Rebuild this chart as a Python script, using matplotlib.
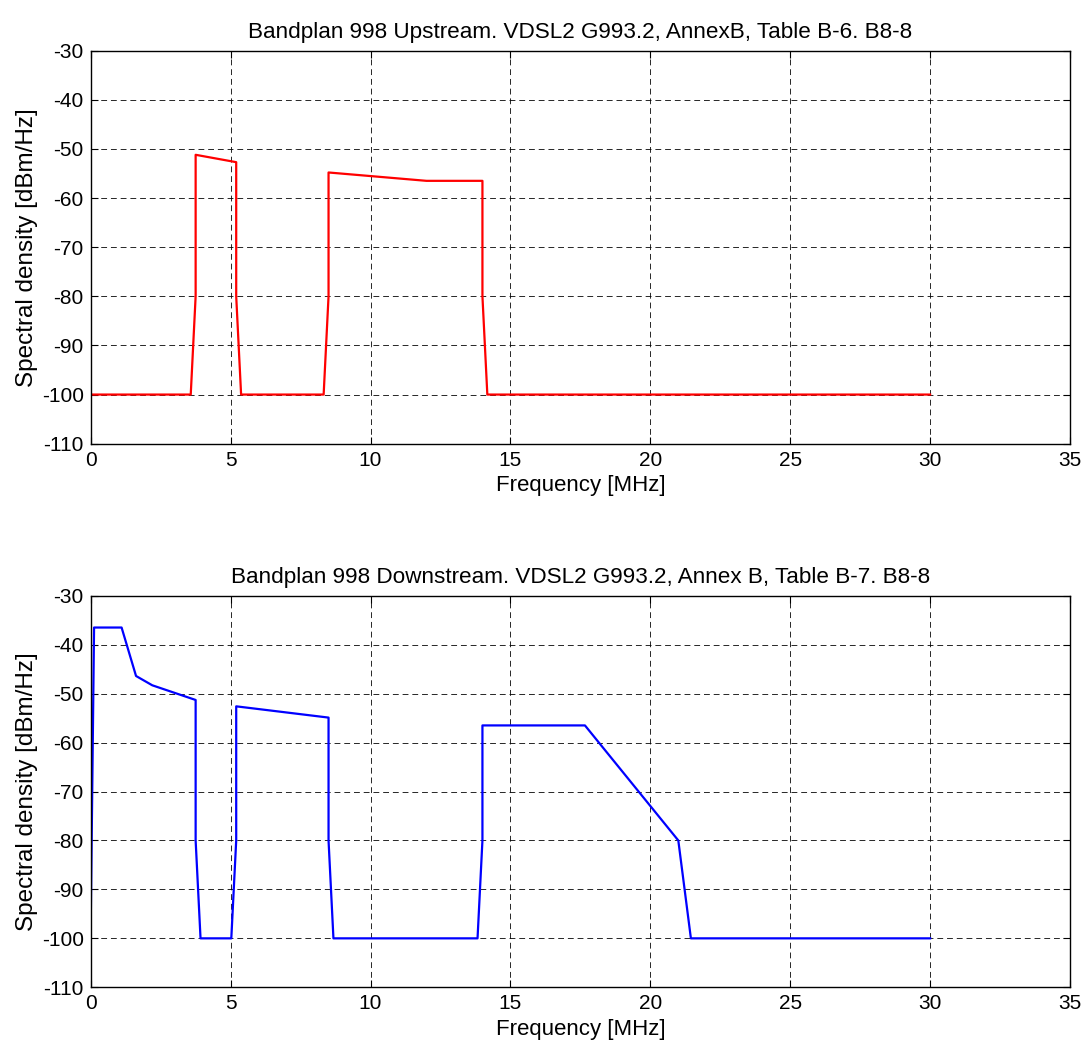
import matplotlib
matplotlib.use('Agg')
import matplotlib.pyplot as plt
import numpy as np

plt.rcParams['font.family'] = ['Liberation Sans', 'DejaVu Sans']
plt.rcParams['axes.unicode_minus'] = False

# upstream PSD mask (MHz, dBm/Hz)
up_f = [0, 3.575, 3.75, 3.75, 5.2, 5.2, 5.375, 8.325, 8.5, 8.5, 12.0, 14.0, 14.0, 14.175, 30.0]
up_p = [-100, -100, -80, -51.2, -52.7, -80, -100, -100, -80, -54.8, -56.5, -56.5, -80, -100, -100]

# downstream PSD mask
dn_f = [0, 0.12, 1.104, 1.62, 2.2, 3.75, 3.75, 3.925, 5.025, 5.2, 5.2, 8.5, 8.5, 8.675,
        13.825, 14.0, 14.0, 17.664, 21.0, 21.45, 30.0]
dn_p = [-97.5, -36.5, -36.5, -46.4, -48.3, -51.3, -80, -100, -100, -80, -52.6, -54.9, -80, -100,
        -100, -80, -56.5, -56.5, -80, -100, -100]

titles = ['Bandplan 998 Upstream. VDSL2 G993.2, AnnexB, Table B-6. B8-8',
          'Bandplan 998 Downstream. VDSL2 G993.2, Annex B, Table B-7. B8-8']

fig = plt.figure(figsize=(10.85, 10.42), dpi=100)
ax1 = fig.add_axes([0.0836, 0.5742, 0.9026, 0.3772])
ax2 = fig.add_axes([0.0836, 0.0525, 0.9026, 0.3758])

for ax, f, p, c, t in [(ax1, up_f, up_p, 'red', titles[0]), (ax2, dn_f, dn_p, 'blue', titles[1])]:
    ax.plot(f, p, color=c, lw=1.6)
    ax.set_xlim(0, 35)
    ax.set_ylim(-110, -30)
    ax.set_xticks(np.arange(0, 36, 5))
    ax.set_yticks(np.arange(-110, -29, 10))
    ax.grid(True, color='k', lw=0.7, linestyle=(0, (6, 4)), alpha=0.85)
    ax.tick_params(direction='in', top=True, right=True, labelsize=15, length=5, pad=5)
    for s in ax.spines.values():
        s.set_linewidth(1.0)
    ax.set_title(t, fontsize=16.2, pad=9)
    ax.set_xlabel('Frequency [MHz]', fontsize=16, labelpad=4)
    ax.set_ylabel('Spectral density [dBm/Hz]', fontsize=17.5, labelpad=3)

fig.savefig('out.png', dpi=100)
